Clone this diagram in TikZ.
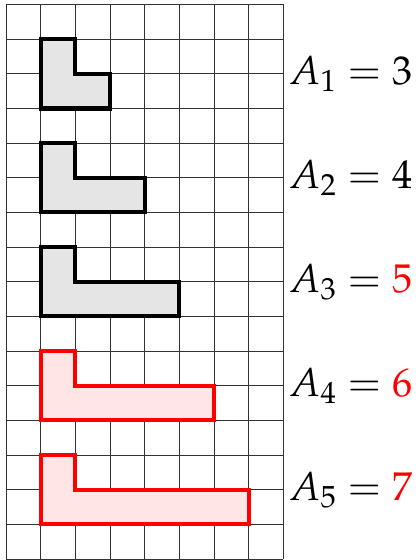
\documentclass[tikz,border=0pt]{standalone}
\usepackage{mathpazo}
\usepackage{xcolor}
\usepackage{tikz}
\usetikzlibrary{positioning}

\begin{document}
\begin{tikzpicture}[
    gridline/.style={line width=0.6pt, black!80},
    okshape/.style={draw=black, fill=black!10, line width=3.4pt, line join=miter},
    badshape/.style={draw=red, fill=red!10, line width=3.4pt, line join=miter},
    area/.style={anchor=west, inner sep=0pt, font=\fontsize{33pt}{40pt}\selectfont}
  ]
    \useasboundingbox (-0.173,-0.03) rectangle (11.92,16.13);
    % background grid
    \draw[gridline] (0,0) grid (8,16);

    % L-shaped pieces
    \draw[okshape] (1,13) -- (3,13) -- (3,14) -- (2,14) -- (2,15) -- (1,15) -- cycle;
    \draw[okshape] (1,10) -- (4,10) -- (4,11) -- (2,11) -- (2,12) -- (1,12) -- cycle;
    \draw[okshape] (1,7) -- (5,7) -- (5,8) -- (2,8) -- (2,9) -- (1,9) -- cycle;
    \draw[badshape] (1,4) -- (6,4) -- (6,5) -- (2,5) -- (2,6) -- (1,6) -- cycle;
    \draw[badshape] (1,1) -- (7,1) -- (7,2) -- (2,2) -- (2,3) -- (1,3) -- cycle;

    % areas
    \node[area] (a1) at (8.15,14) {$A_1 = 3$};
    \node[area] (a2) at (8.15,11) {$A_2 = 4$};
    \node[area] (a3) at (8.15,8) {$A_3 = \textcolor{red}{5}$};
    \node[area] (a4) at (8.15,5) {$A_4 = \textcolor{red}{6}$};
    \node[area] (a5) at (8.15,2) {$A_5 = \textcolor{red}{7}$};
  \end{tikzpicture}
\end{document}
